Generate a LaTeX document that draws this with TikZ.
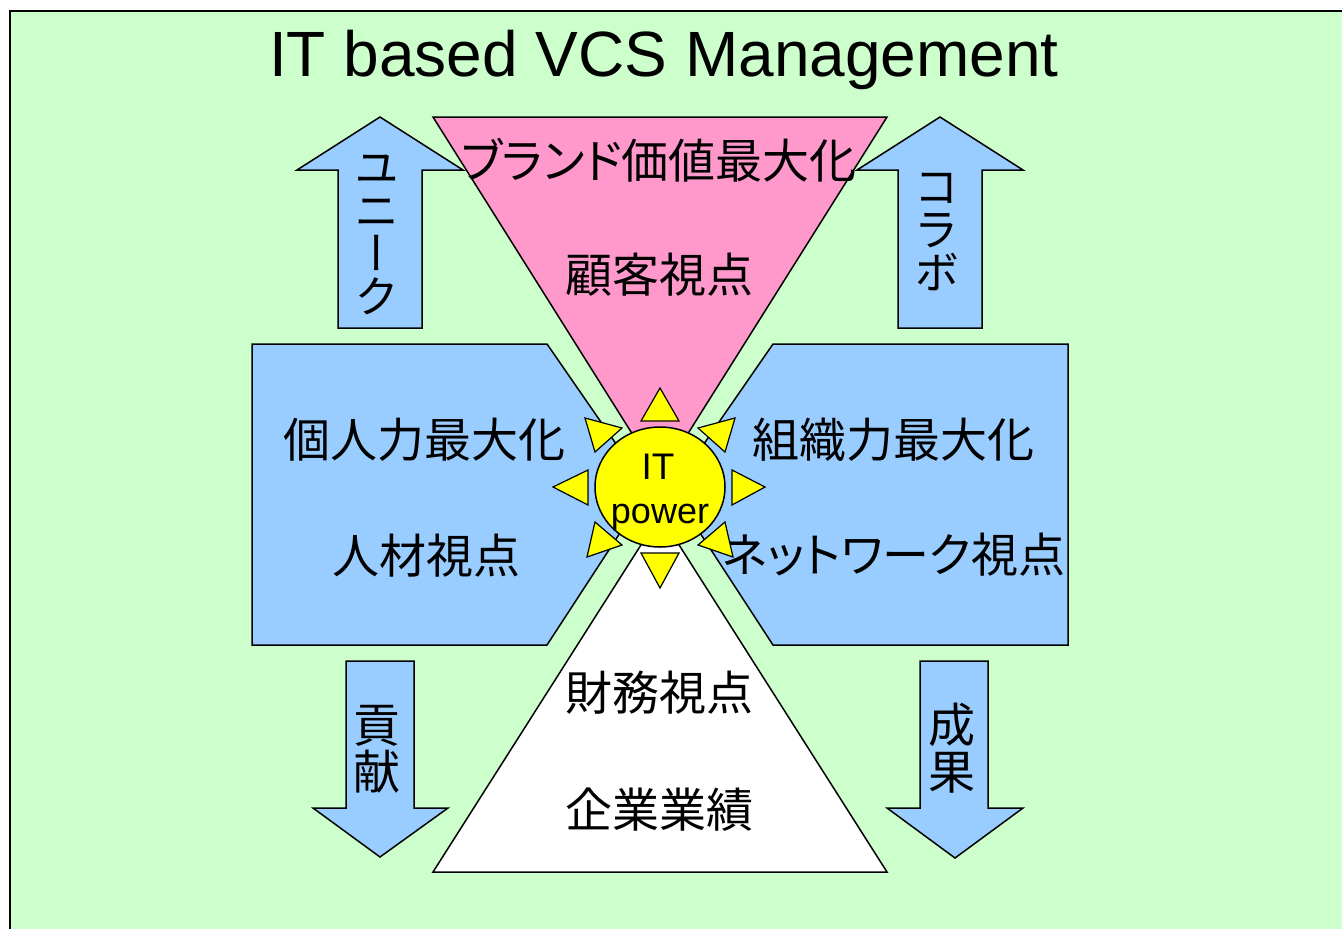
\documentclass[tikz,border=0pt]{standalone}
\usepackage{fontspec}
\setmainfont{Liberation Sans}
\newfontfamily\cjk{Noto Sans CJK JP}
\newfontfamily\cjkp[RawFeature={+palt}]{Noto Sans CJK JP}
\newfontfamily\cjkv[RawFeature={+vert}]{Noto Sans CJK JP}
\definecolor{bggreen}{HTML}{CCFFCC}
\definecolor{pinkc}{HTML}{FF99CC}
\definecolor{bluec}{HTML}{99CCFF}
\definecolor{yellowc}{HTML}{FFFF00}
\tikzset{
  shapeline/.style={draw=black, line width=1.5pt, line join=miter},
  bluebox/.style={shapeline, fill=bluec},
  ray/.style={draw=black, line width=1.2pt, fill=yellowc, line join=miter},
  jlabel/.style={inner sep=0pt, font=\cjk\fontsize{47}{50}\selectfont},
  jlabelp/.style={inner sep=0pt, font=\cjkp\fontsize{47}{50}\selectfont},
  vlabel/.style={inner sep=0pt, align=center, font=\cjkv\fontsize{45}{43}\selectfont},
  vlabelk/.style={inner sep=0pt, align=center, font=\cjk\fontsize{47}{47}\selectfont},
}
\begin{document}
\begin{tikzpicture}[x=1pt,y=-1pt]
\useasboundingbox (0,0) rectangle (1342,929);
\fill[white] (0,0) rectangle (1342,929);
% background frame
\fill[bggreen] (10,11) rectangle (1342,929);
\draw[line width=2pt] (10,929) -- (10,11) -- (1342,11);
% title
\node[anchor=base, inner sep=0pt, font=\fontsize{64}{70}\selectfont] (title) at (664,76) {IT based VCS Management};

% side arrows
\path[bluebox] (380,117) -- (463,170) -- (422,170) -- (422,328) -- (338,328) -- (338,170) -- (297,170) -- cycle;
\path[bluebox] (940,117) -- (1023,170) -- (982,170) -- (982,328) -- (898,328) -- (898,170) -- (857,170) -- cycle;
\path[bluebox] (346,661) -- (414,661) -- (414,808) -- (448,808) -- (380,857) -- (313,808) -- (346,808) -- cycle;
\path[bluebox] (920,661) -- (988,661) -- (988,808) -- (1023,808) -- (955,858) -- (887,808) -- (920,808) -- cycle;

% pentagons
\path[bluebox] (252,344) -- (547,344) -- (648,490) -- (547,645) -- (252,645) -- cycle;
\path[bluebox] (1068,344) -- (773,344) -- (672,490) -- (773,645) -- (1068,645) -- cycle;

% triangles
\path[shapeline, fill=pinkc] (433,117) -- (887,117) -- (660,478) -- cycle;
\path[shapeline, fill=white] (433,872) -- (887,872) -- (660,515) -- cycle;

% labels
\node[jlabelp] (brand) at (659,160) {ブランド価値最大化};
\node[jlabel] (kokyaku) at (659,275) {顧客視点};
\node[jlabel] (kojin) at (424,440) {個人力最大化};
\node[jlabel] (jinzai) at (426,556) {人材視点};
\node[jlabel] (soshiki) at (893,440) {組織力最大化};
\node[jlabelp] (network) at (894,555) {ネットワーク視点};
\node[jlabel] (zaimu) at (659,693) {財務視点};
\node[jlabel] (kigyo) at (659,810) {企業業績};

\node[vlabel] (unique) at (377,235) {ユ\\ニ\\ー\\ク};
\node[vlabel] (collab) at (937,232) {コ\\ラ\\ボ};
\node[vlabelk] (koken) at (377,749) {貢\\献};
\node[vlabelk] (seika) at (952,748) {成\\果};

% sun rays
\path[ray] (660,388) -- (679,421) -- (641,421) -- cycle;
\path[ray] (660,588) -- (679,553) -- (641,553) -- cycle;
\path[ray] (553,487) -- (588,470) -- (588,505) -- cycle;
\path[ray] (765,487) -- (732,470) -- (732,505) -- cycle;
\path[ray] (585,418) -- (622,428) -- (595,452) -- cycle;
\path[ray] (735,418) -- (698,428) -- (725,452) -- cycle;
\path[ray] (587,557) -- (622,545) -- (595,522) -- cycle;
\path[ray] (733,557) -- (698,545) -- (725,522) -- cycle;

% sun
\path[draw=black, line width=1.5pt, fill=yellowc] (660,487) ellipse [x radius=65pt, y radius=60pt];
\node[anchor=base, inner sep=0pt, font=\fontsize{37}{40}\selectfont] (it) at (658,479) {IT};
\node[anchor=base, inner sep=0pt, font=\fontsize{36}{40}\selectfont] (power) at (660,523) {power};
\end{tikzpicture}
\end{document}
